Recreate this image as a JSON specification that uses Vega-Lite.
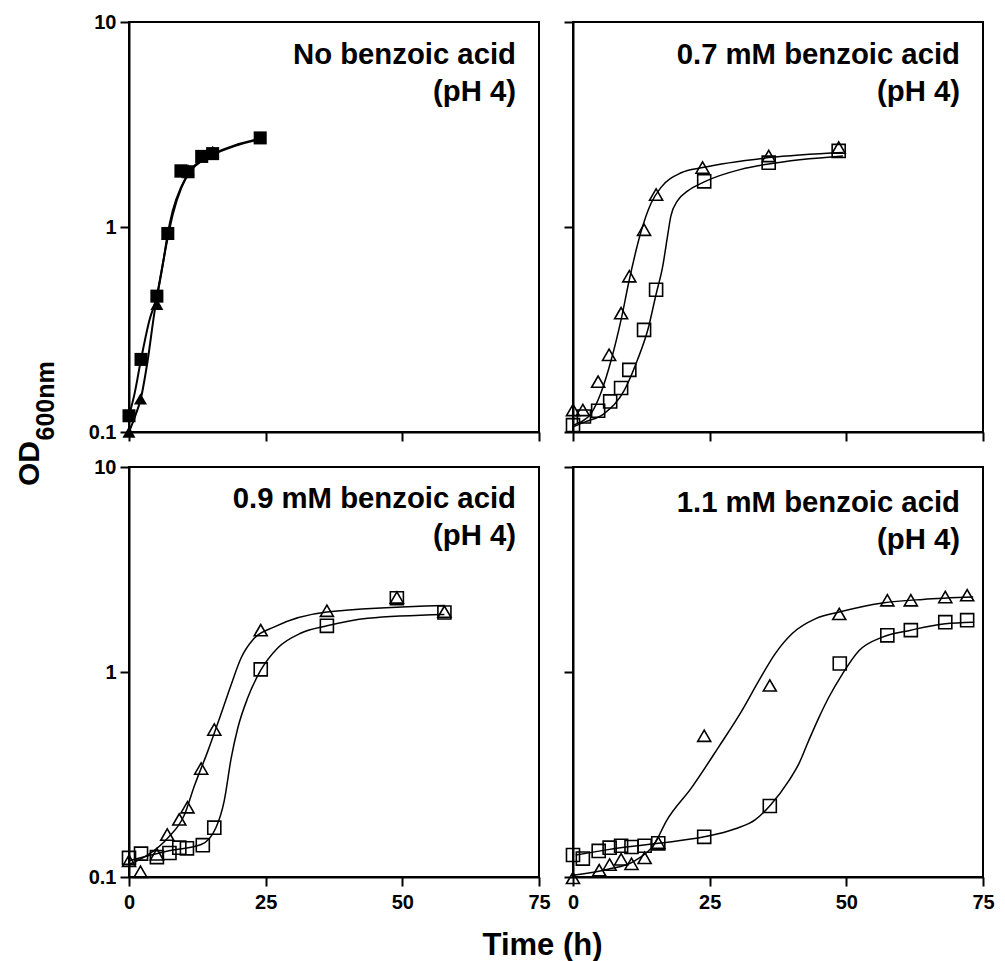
{
  "$schema": "https://vega.github.io/schema/vega-lite/v6.json",
  "background": "white",
  "padding": {"left": 13, "top": 11, "right": 5, "bottom": 5},
  "config": {
    "view": {"stroke": "black", "strokeWidth": 2},
    "axis": {
      "grid": false,
      "domainColor": "black",
      "domainWidth": 2,
      "tickColor": "black",
      "tickWidth": 2,
      "tickSize": 9,
      "labelFont": "Liberation Sans",
      "labelFontWeight": "bold",
      "labelFontSize": 20,
      "labelColor": "black",
      "labelFlush": false,
      "labelOverlap": false,
      "titleFont": "Liberation Sans",
      "titleFontWeight": "bold",
      "titleColor": "black"
    },
    "title": {"font": "Liberation Sans", "fontSize": 29.3, "fontWeight": "bold", "color": "black", "anchor": "end", "frame": "group", "baseline": "top", "lineHeight": 37, "dx": -23}
  },
  "datasets": {
    "growth": [
      {"panel": "A", "kind": "obs", "series": "tri", "t": 0, "od": 0.10},
      {"panel": "A", "kind": "obs", "series": "tri", "t": 2.1, "od": 0.145},
      {"panel": "A", "kind": "obs", "series": "tri", "t": 5.1, "od": 0.42},
      {"panel": "A", "kind": "obs", "series": "tri", "t": 7.1, "od": 0.92},
      {"panel": "A", "kind": "obs", "series": "tri", "t": 9.5, "od": 1.86},
      {"panel": "A", "kind": "obs", "series": "tri", "t": 10.8, "od": 1.9},
      {"panel": "A", "kind": "obs", "series": "tri", "t": 13.3, "od": 2.2},
      {"panel": "A", "kind": "obs", "series": "tri", "t": 15.3, "od": 2.34},
      {"panel": "A", "kind": "obs", "series": "tri", "t": 24, "od": 2.74},
      {"panel": "A", "kind": "obs", "series": "sq", "t": 0, "od": 0.12},
      {"panel": "A", "kind": "obs", "series": "sq", "t": 2.2, "od": 0.226},
      {"panel": "A", "kind": "obs", "series": "sq", "t": 5.1, "od": 0.46},
      {"panel": "A", "kind": "obs", "series": "sq", "t": 7.1, "od": 0.93},
      {"panel": "A", "kind": "obs", "series": "sq", "t": 9.5, "od": 1.88},
      {"panel": "A", "kind": "obs", "series": "sq", "t": 10.8, "od": 1.86},
      {"panel": "A", "kind": "obs", "series": "sq", "t": 13.3, "od": 2.21},
      {"panel": "A", "kind": "obs", "series": "sq", "t": 15.3, "od": 2.28},
      {"panel": "A", "kind": "obs", "series": "sq", "t": 24, "od": 2.72},
      {"panel": "A", "kind": "fit", "series": "tri", "t": 0, "od": 0.10},
      {"panel": "A", "kind": "fit", "series": "tri", "t": 1, "od": 0.117},
      {"panel": "A", "kind": "fit", "series": "tri", "t": 2.2, "od": 0.147},
      {"panel": "A", "kind": "fit", "series": "tri", "t": 3.4, "od": 0.222},
      {"panel": "A", "kind": "fit", "series": "tri", "t": 4.6, "od": 0.375},
      {"panel": "A", "kind": "fit", "series": "tri", "t": 5.85, "od": 0.59},
      {"panel": "A", "kind": "fit", "series": "tri", "t": 7.1, "od": 0.89},
      {"panel": "A", "kind": "fit", "series": "tri", "t": 8.0, "od": 1.15},
      {"panel": "A", "kind": "fit", "series": "tri", "t": 9.6, "od": 1.56},
      {"panel": "A", "kind": "fit", "series": "tri", "t": 11.3, "od": 1.88},
      {"panel": "A", "kind": "fit", "series": "tri", "t": 14.4, "od": 2.18},
      {"panel": "A", "kind": "fit", "series": "tri", "t": 19.3, "od": 2.48},
      {"panel": "A", "kind": "fit", "series": "tri", "t": 24, "od": 2.68},
      {"panel": "A", "kind": "fit", "series": "sq", "t": 0, "od": 0.12},
      {"panel": "A", "kind": "fit", "series": "sq", "t": 1, "od": 0.153},
      {"panel": "A", "kind": "fit", "series": "sq", "t": 2.2, "od": 0.226},
      {"panel": "A", "kind": "fit", "series": "sq", "t": 3.7, "od": 0.348},
      {"panel": "A", "kind": "fit", "series": "sq", "t": 5.1, "od": 0.46},
      {"panel": "A", "kind": "fit", "series": "sq", "t": 6.2, "od": 0.66},
      {"panel": "A", "kind": "fit", "series": "sq", "t": 7.1, "od": 0.93},
      {"panel": "A", "kind": "fit", "series": "sq", "t": 8.0, "od": 1.2},
      {"panel": "A", "kind": "fit", "series": "sq", "t": 9.6, "od": 1.58},
      {"panel": "A", "kind": "fit", "series": "sq", "t": 11.3, "od": 1.9},
      {"panel": "A", "kind": "fit", "series": "sq", "t": 14.4, "od": 2.2},
      {"panel": "A", "kind": "fit", "series": "sq", "t": 19.3, "od": 2.5},
      {"panel": "A", "kind": "fit", "series": "sq", "t": 24, "od": 2.7},

      {"panel": "B", "kind": "obs", "series": "tri", "t": 0, "od": 0.128},
      {"panel": "B", "kind": "obs", "series": "tri", "t": 1.8, "od": 0.128},
      {"panel": "B", "kind": "obs", "series": "tri", "t": 4.6, "od": 0.176},
      {"panel": "B", "kind": "obs", "series": "tri", "t": 6.6, "od": 0.238},
      {"panel": "B", "kind": "obs", "series": "tri", "t": 8.8, "od": 0.38},
      {"panel": "B", "kind": "obs", "series": "tri", "t": 10.3, "od": 0.575},
      {"panel": "B", "kind": "obs", "series": "tri", "t": 13.0, "od": 0.97},
      {"panel": "B", "kind": "obs", "series": "tri", "t": 15.2, "od": 1.44},
      {"panel": "B", "kind": "obs", "series": "tri", "t": 23.7, "od": 1.95},
      {"panel": "B", "kind": "obs", "series": "tri", "t": 35.8, "od": 2.22},
      {"panel": "B", "kind": "obs", "series": "tri", "t": 48.6, "od": 2.44},
      {"panel": "B", "kind": "obs", "series": "sq", "t": 0, "od": 0.108},
      {"panel": "B", "kind": "obs", "series": "sq", "t": 2.0, "od": 0.119},
      {"panel": "B", "kind": "obs", "series": "sq", "t": 4.6, "od": 0.127},
      {"panel": "B", "kind": "obs", "series": "sq", "t": 6.8, "od": 0.141},
      {"panel": "B", "kind": "obs", "series": "sq", "t": 8.8, "od": 0.164},
      {"panel": "B", "kind": "obs", "series": "sq", "t": 10.3, "od": 0.201},
      {"panel": "B", "kind": "obs", "series": "sq", "t": 13.0, "od": 0.315},
      {"panel": "B", "kind": "obs", "series": "sq", "t": 15.2, "od": 0.494},
      {"panel": "B", "kind": "obs", "series": "sq", "t": 24.0, "od": 1.67},
      {"panel": "B", "kind": "obs", "series": "sq", "t": 35.8, "od": 2.06},
      {"panel": "B", "kind": "obs", "series": "sq", "t": 48.6, "od": 2.35},
      {"panel": "B", "kind": "fit", "series": "tri", "t": 0, "od": 0.108},
      {"panel": "B", "kind": "fit", "series": "tri", "t": 1.5, "od": 0.112},
      {"panel": "B", "kind": "fit", "series": "tri", "t": 3.3, "od": 0.123},
      {"panel": "B", "kind": "fit", "series": "tri", "t": 5.1, "od": 0.155},
      {"panel": "B", "kind": "fit", "series": "tri", "t": 7.0, "od": 0.225},
      {"panel": "B", "kind": "fit", "series": "tri", "t": 8.8, "od": 0.353},
      {"panel": "B", "kind": "fit", "series": "tri", "t": 10.3, "od": 0.553},
      {"panel": "B", "kind": "fit", "series": "tri", "t": 12.4, "od": 0.94},
      {"panel": "B", "kind": "fit", "series": "tri", "t": 14.3, "od": 1.31},
      {"panel": "B", "kind": "fit", "series": "tri", "t": 16.1, "od": 1.56},
      {"panel": "B", "kind": "fit", "series": "tri", "t": 19.8, "od": 1.84},
      {"panel": "B", "kind": "fit", "series": "tri", "t": 23.7, "od": 1.95},
      {"panel": "B", "kind": "fit", "series": "tri", "t": 35.8, "od": 2.18},
      {"panel": "B", "kind": "fit", "series": "tri", "t": 49.4, "od": 2.31},
      {"panel": "B", "kind": "fit", "series": "sq", "t": 0, "od": 0.106},
      {"panel": "B", "kind": "fit", "series": "sq", "t": 2.2, "od": 0.112},
      {"panel": "B", "kind": "fit", "series": "sq", "t": 5.7, "od": 0.123},
      {"panel": "B", "kind": "fit", "series": "sq", "t": 9.4, "od": 0.16},
      {"panel": "B", "kind": "fit", "series": "sq", "t": 11.8, "od": 0.225},
      {"panel": "B", "kind": "fit", "series": "sq", "t": 13.7, "od": 0.316},
      {"panel": "B", "kind": "fit", "series": "sq", "t": 15.2, "od": 0.47},
      {"panel": "B", "kind": "fit", "series": "sq", "t": 16.4, "od": 0.64},
      {"panel": "B", "kind": "fit", "series": "sq", "t": 17.2, "od": 0.87},
      {"panel": "B", "kind": "fit", "series": "sq", "t": 17.9, "od": 1.13},
      {"panel": "B", "kind": "fit", "series": "sq", "t": 19.1, "od": 1.34},
      {"panel": "B", "kind": "fit", "series": "sq", "t": 21.0, "od": 1.5},
      {"panel": "B", "kind": "fit", "series": "sq", "t": 24.0, "od": 1.66},
      {"panel": "B", "kind": "fit", "series": "sq", "t": 30.7, "od": 1.91},
      {"panel": "B", "kind": "fit", "series": "sq", "t": 35.8, "od": 2.03},
      {"panel": "B", "kind": "fit", "series": "sq", "t": 49.4, "od": 2.22},

      {"panel": "C", "kind": "obs", "series": "tri", "t": 0, "od": 0.12},
      {"panel": "C", "kind": "obs", "series": "tri", "t": 2.1, "od": 0.106},
      {"panel": "C", "kind": "obs", "series": "tri", "t": 5.1, "od": 0.129},
      {"panel": "C", "kind": "obs", "series": "tri", "t": 7.0, "od": 0.161},
      {"panel": "C", "kind": "obs", "series": "tri", "t": 9.2, "od": 0.191},
      {"panel": "C", "kind": "obs", "series": "tri", "t": 10.7, "od": 0.219},
      {"panel": "C", "kind": "obs", "series": "tri", "t": 13.2, "od": 0.338},
      {"panel": "C", "kind": "obs", "series": "tri", "t": 15.6, "od": 0.524},
      {"panel": "C", "kind": "obs", "series": "tri", "t": 24.1, "od": 1.6},
      {"panel": "C", "kind": "obs", "series": "tri", "t": 36.2, "od": 1.99},
      {"panel": "C", "kind": "obs", "series": "tri", "t": 49.0, "od": 2.31},
      {"panel": "C", "kind": "obs", "series": "tri", "t": 57.7, "od": 1.97},
      {"panel": "C", "kind": "obs", "series": "sq", "t": 0, "od": 0.124},
      {"panel": "C", "kind": "obs", "series": "sq", "t": 2.2, "od": 0.13},
      {"panel": "C", "kind": "obs", "series": "sq", "t": 5.1, "od": 0.125},
      {"panel": "C", "kind": "obs", "series": "sq", "t": 7.4, "od": 0.131},
      {"panel": "C", "kind": "obs", "series": "sq", "t": 9.2, "od": 0.139},
      {"panel": "C", "kind": "obs", "series": "sq", "t": 10.6, "od": 0.138},
      {"panel": "C", "kind": "obs", "series": "sq", "t": 13.5, "od": 0.143},
      {"panel": "C", "kind": "obs", "series": "sq", "t": 15.6, "od": 0.174},
      {"panel": "C", "kind": "obs", "series": "sq", "t": 24.1, "od": 1.03},
      {"panel": "C", "kind": "obs", "series": "sq", "t": 36.2, "od": 1.68},
      {"panel": "C", "kind": "obs", "series": "sq", "t": 49.0, "od": 2.29},
      {"panel": "C", "kind": "obs", "series": "sq", "t": 57.7, "od": 1.95},
      {"panel": "C", "kind": "fit", "series": "tri", "t": 0, "od": 0.115},
      {"panel": "C", "kind": "fit", "series": "tri", "t": 4.0, "od": 0.131},
      {"panel": "C", "kind": "fit", "series": "tri", "t": 7.1, "od": 0.155},
      {"panel": "C", "kind": "fit", "series": "tri", "t": 10.1, "od": 0.2},
      {"panel": "C", "kind": "fit", "series": "tri", "t": 12.0, "od": 0.28},
      {"panel": "C", "kind": "fit", "series": "tri", "t": 14.4, "od": 0.41},
      {"panel": "C", "kind": "fit", "series": "tri", "t": 16.8, "od": 0.62},
      {"panel": "C", "kind": "fit", "series": "tri", "t": 18.7, "od": 0.87},
      {"panel": "C", "kind": "fit", "series": "tri", "t": 20.5, "od": 1.17},
      {"panel": "C", "kind": "fit", "series": "tri", "t": 22.9, "od": 1.46},
      {"panel": "C", "kind": "fit", "series": "tri", "t": 26.6, "od": 1.66},
      {"panel": "C", "kind": "fit", "series": "tri", "t": 36.2, "od": 1.96},
      {"panel": "C", "kind": "fit", "series": "tri", "t": 57.7, "od": 2.11},
      {"panel": "C", "kind": "fit", "series": "sq", "t": 0, "od": 0.12},
      {"panel": "C", "kind": "fit", "series": "sq", "t": 7.1, "od": 0.134},
      {"panel": "C", "kind": "fit", "series": "sq", "t": 13.2, "od": 0.144},
      {"panel": "C", "kind": "fit", "series": "sq", "t": 15.9, "od": 0.174},
      {"panel": "C", "kind": "fit", "series": "sq", "t": 17.4, "od": 0.234},
      {"panel": "C", "kind": "fit", "series": "sq", "t": 18.7, "od": 0.381},
      {"panel": "C", "kind": "fit", "series": "sq", "t": 19.9, "od": 0.533},
      {"panel": "C", "kind": "fit", "series": "sq", "t": 21.7, "od": 0.746},
      {"panel": "C", "kind": "fit", "series": "sq", "t": 24.1, "od": 1.02},
      {"panel": "C", "kind": "fit", "series": "sq", "t": 27.2, "od": 1.31},
      {"panel": "C", "kind": "fit", "series": "sq", "t": 31.5, "od": 1.55},
      {"panel": "C", "kind": "fit", "series": "sq", "t": 36.2, "od": 1.68},
      {"panel": "C", "kind": "fit", "series": "sq", "t": 43.7, "od": 1.83},
      {"panel": "C", "kind": "fit", "series": "sq", "t": 57.7, "od": 1.91},

      {"panel": "D", "kind": "obs", "series": "tri", "t": 0, "od": 0.099},
      {"panel": "D", "kind": "obs", "series": "tri", "t": 4.8, "od": 0.108},
      {"panel": "D", "kind": "obs", "series": "tri", "t": 6.7, "od": 0.115},
      {"panel": "D", "kind": "obs", "series": "tri", "t": 8.8, "od": 0.122},
      {"panel": "D", "kind": "obs", "series": "tri", "t": 10.7, "od": 0.116},
      {"panel": "D", "kind": "obs", "series": "tri", "t": 13.1, "od": 0.124},
      {"panel": "D", "kind": "obs", "series": "tri", "t": 15.6, "od": 0.147},
      {"panel": "D", "kind": "obs", "series": "tri", "t": 24.0, "od": 0.489},
      {"panel": "D", "kind": "obs", "series": "tri", "t": 36.0, "od": 0.86},
      {"panel": "D", "kind": "obs", "series": "tri", "t": 48.7, "od": 1.92},
      {"panel": "D", "kind": "obs", "series": "tri", "t": 57.5, "od": 2.24},
      {"panel": "D", "kind": "obs", "series": "tri", "t": 61.8, "od": 2.24},
      {"panel": "D", "kind": "obs", "series": "tri", "t": 68.1, "od": 2.32},
      {"panel": "D", "kind": "obs", "series": "tri", "t": 72.1, "od": 2.37},
      {"panel": "D", "kind": "obs", "series": "sq", "t": 0, "od": 0.128},
      {"panel": "D", "kind": "obs", "series": "sq", "t": 1.8, "od": 0.123},
      {"panel": "D", "kind": "obs", "series": "sq", "t": 4.7, "od": 0.134},
      {"panel": "D", "kind": "obs", "series": "sq", "t": 6.7, "od": 0.139},
      {"panel": "D", "kind": "obs", "series": "sq", "t": 8.8, "od": 0.142},
      {"panel": "D", "kind": "obs", "series": "sq", "t": 10.7, "od": 0.14},
      {"panel": "D", "kind": "obs", "series": "sq", "t": 13.1, "od": 0.142},
      {"panel": "D", "kind": "obs", "series": "sq", "t": 15.6, "od": 0.146},
      {"panel": "D", "kind": "obs", "series": "sq", "t": 24.0, "od": 0.157},
      {"panel": "D", "kind": "obs", "series": "sq", "t": 36.0, "od": 0.222},
      {"panel": "D", "kind": "obs", "series": "sq", "t": 48.8, "od": 1.10},
      {"panel": "D", "kind": "obs", "series": "sq", "t": 57.5, "od": 1.51},
      {"panel": "D", "kind": "obs", "series": "sq", "t": 61.8, "od": 1.60},
      {"panel": "D", "kind": "obs", "series": "sq", "t": 68.1, "od": 1.75},
      {"panel": "D", "kind": "obs", "series": "sq", "t": 72.1, "od": 1.79},
      {"panel": "D", "kind": "fit", "series": "tri", "t": 0, "od": 0.102},
      {"panel": "D", "kind": "fit", "series": "tri", "t": 6.4, "od": 0.109},
      {"panel": "D", "kind": "fit", "series": "tri", "t": 11.3, "od": 0.12},
      {"panel": "D", "kind": "fit", "series": "tri", "t": 14.9, "od": 0.145},
      {"panel": "D", "kind": "fit", "series": "tri", "t": 17.1, "od": 0.188},
      {"panel": "D", "kind": "fit", "series": "tri", "t": 21.7, "od": 0.273},
      {"panel": "D", "kind": "fit", "series": "tri", "t": 26.6, "od": 0.429},
      {"panel": "D", "kind": "fit", "series": "tri", "t": 30.9, "od": 0.648},
      {"panel": "D", "kind": "fit", "series": "tri", "t": 34.0, "od": 0.908},
      {"panel": "D", "kind": "fit", "series": "tri", "t": 37.0, "od": 1.23},
      {"panel": "D", "kind": "fit", "series": "tri", "t": 40.1, "od": 1.54},
      {"panel": "D", "kind": "fit", "series": "tri", "t": 44.4, "od": 1.82},
      {"panel": "D", "kind": "fit", "series": "tri", "t": 48.7, "od": 1.96},
      {"panel": "D", "kind": "fit", "series": "tri", "t": 56.6, "od": 2.17},
      {"panel": "D", "kind": "fit", "series": "tri", "t": 64.0, "od": 2.26},
      {"panel": "D", "kind": "fit", "series": "tri", "t": 73.2, "od": 2.32},
      {"panel": "D", "kind": "fit", "series": "sq", "t": 0.5, "od": 0.128},
      {"panel": "D", "kind": "fit", "series": "sq", "t": 6.4, "od": 0.136},
      {"panel": "D", "kind": "fit", "series": "sq", "t": 15.6, "od": 0.146},
      {"panel": "D", "kind": "fit", "series": "sq", "t": 24.0, "od": 0.157},
      {"panel": "D", "kind": "fit", "series": "sq", "t": 29.7, "od": 0.172},
      {"panel": "D", "kind": "fit", "series": "sq", "t": 33.3, "od": 0.19},
      {"panel": "D", "kind": "fit", "series": "sq", "t": 36.1, "od": 0.224},
      {"panel": "D", "kind": "fit", "series": "sq", "t": 39.5, "od": 0.295},
      {"panel": "D", "kind": "fit", "series": "sq", "t": 41.3, "od": 0.356},
      {"panel": "D", "kind": "fit", "series": "sq", "t": 43.1, "od": 0.462},
      {"panel": "D", "kind": "fit", "series": "sq", "t": 45.0, "od": 0.601},
      {"panel": "D", "kind": "fit", "series": "sq", "t": 46.8, "od": 0.753},
      {"panel": "D", "kind": "fit", "series": "sq", "t": 49.3, "od": 0.98},
      {"panel": "D", "kind": "fit", "series": "sq", "t": 52.3, "od": 1.27},
      {"panel": "D", "kind": "fit", "series": "sq", "t": 56.6, "od": 1.48},
      {"panel": "D", "kind": "fit", "series": "sq", "t": 61.8, "od": 1.6},
      {"panel": "D", "kind": "fit", "series": "sq", "t": 68.1, "od": 1.72},
      {"panel": "D", "kind": "fit", "series": "sq", "t": 73.2, "od": 1.75}
    ]
  },
  "columns": 2,
  "bounds": "flush",
  "spacing": {"row": 35, "column": 34},
  "concat": [
    {
      "width": 410, "height": 410,
      "title": {"text": ["No benzoic acid", "(pH 4)"], "offset": -95},
      "data": {"name": "growth"},
      "transform": [{"filter": "datum.panel === 'A'"}],
      "encoding": {
        "x": {"field": "t", "type": "quantitative", "scale": {"domain": [0, 75], "nice": false},
              "axis": {"values": [0, 25, 50, 75], "labels": false, "title": null}},
        "y": {"field": "od", "type": "quantitative", "scale": {"type": "log", "domain": [0.1, 10], "nice": false},
              "axis": {"values": [0.1, 1, 10], "format": "~g", "labelPadding": 4,
                       "title": "OD", "titleFontSize": 30, "titleAngle": 270, "titleAlign": "center", "titleBaseline": "alphabetic",
                       "titleX": -91, "titleY": 441}}
      },
      "layer": [
        {"transform": [{"filter": "datum.kind === 'fit'"}],
         "mark": {"type": "line", "color": "black", "strokeWidth": 2, "interpolate": "monotone"},
         "encoding": {"detail": {"field": "series"}}},
        {"transform": [{"filter": "datum.kind === 'obs'"}],
         "mark": {"type": "point", "filled": true, "color": "black", "opacity": 1, "size": 170},
         "encoding": {"shape": {"field": "series", "type": "nominal", "scale": {"domain": ["tri", "sq"], "range": ["triangle-up", "square"]}, "legend": null}}}
      ]
    },
    {
      "width": 410, "height": 410,
      "title": {"text": ["0.7 mM benzoic acid", "(pH 4)"], "offset": -86},
      "data": {"name": "growth"},
      "transform": [{"filter": "datum.panel === 'B'"}],
      "encoding": {
        "x": {"field": "t", "type": "quantitative", "scale": {"domain": [0, 75], "nice": false},
              "axis": {"values": [0, 25, 50, 75], "labels": false, "title": null}},
        "y": {"field": "od", "type": "quantitative", "scale": {"type": "log", "domain": [0.1, 10], "nice": false},
              "axis": {"values": [0.1, 1, 10], "labels": false, "title": null}}
      },
      "layer": [
        {"transform": [{"filter": "datum.kind === 'fit'"}],
         "mark": {"type": "line", "color": "black", "strokeWidth": 1.5, "interpolate": "monotone"},
         "encoding": {"detail": {"field": "series"}}},
        {"transform": [{"filter": "datum.kind === 'obs'"}],
         "mark": {"type": "point", "filled": false, "color": "black", "opacity": 1, "strokeWidth": 1.6, "size": 170},
         "encoding": {"shape": {"field": "series", "type": "nominal", "scale": {"domain": ["tri", "sq"], "range": ["triangle-up", "square"]}, "legend": null}}}
      ]
    },
    {
      "width": 410, "height": 410,
      "title": {"text": ["0.9 mM benzoic acid", "(pH 4)"], "offset": -191},
      "data": {"name": "growth"},
      "transform": [{"filter": "datum.panel === 'C'"}],
      "encoding": {
        "x": {"field": "t", "type": "quantitative", "scale": {"domain": [0, 75], "nice": false},
              "axis": {"values": [0, 25, 50, 75], "labelPadding": 6,
                       "title": "Time (h)", "titleFontSize": 31, "titleAlign": "center", "titleBaseline": "alphabetic",
                       "titleX": 413, "titleY": 77}},
        "y": {"field": "od", "type": "quantitative", "scale": {"type": "log", "domain": [0.1, 10], "nice": false},
              "axis": {"values": [0.1, 1, 10], "format": "~g", "labelPadding": 4,
                       "title": "600nm", "titleFontSize": 25, "titleAngle": 270, "titleAlign": "left", "titleBaseline": "alphabetic",
                       "titleX": -76, "titleY": -27}}
      },
      "layer": [
        {"transform": [{"filter": "datum.kind === 'fit'"}],
         "mark": {"type": "line", "color": "black", "strokeWidth": 1.5, "interpolate": "monotone"},
         "encoding": {"detail": {"field": "series"}}},
        {"transform": [{"filter": "datum.kind === 'obs'"}],
         "mark": {"type": "point", "filled": false, "color": "black", "opacity": 1, "strokeWidth": 1.6, "size": 170},
         "encoding": {"shape": {"field": "series", "type": "nominal", "scale": {"domain": ["tri", "sq"], "range": ["triangle-up", "square"]}, "legend": null}}}
      ]
    },
    {
      "width": 410, "height": 410,
      "title": {"text": ["1.1 mM benzoic acid", "(pH 4)"], "offset": -89},
      "data": {"name": "growth"},
      "transform": [{"filter": "datum.panel === 'D'"}],
      "encoding": {
        "x": {"field": "t", "type": "quantitative", "scale": {"domain": [0, 75], "nice": false},
              "axis": {"values": [0, 25, 50, 75], "labelPadding": 6, "title": null}},
        "y": {"field": "od", "type": "quantitative", "scale": {"type": "log", "domain": [0.1, 10], "nice": false},
              "axis": {"values": [0.1, 1, 10], "labels": false, "title": null}}
      },
      "layer": [
        {"transform": [{"filter": "datum.kind === 'fit'"}],
         "mark": {"type": "line", "color": "black", "strokeWidth": 1.5, "interpolate": "monotone"},
         "encoding": {"detail": {"field": "series"}}},
        {"transform": [{"filter": "datum.kind === 'obs'"}],
         "mark": {"type": "point", "filled": false, "color": "black", "opacity": 1, "strokeWidth": 1.6, "size": 170},
         "encoding": {"shape": {"field": "series", "type": "nominal", "scale": {"domain": ["tri", "sq"], "range": ["triangle-up", "square"]}, "legend": null}}}
      ]
    }
  ]
}
